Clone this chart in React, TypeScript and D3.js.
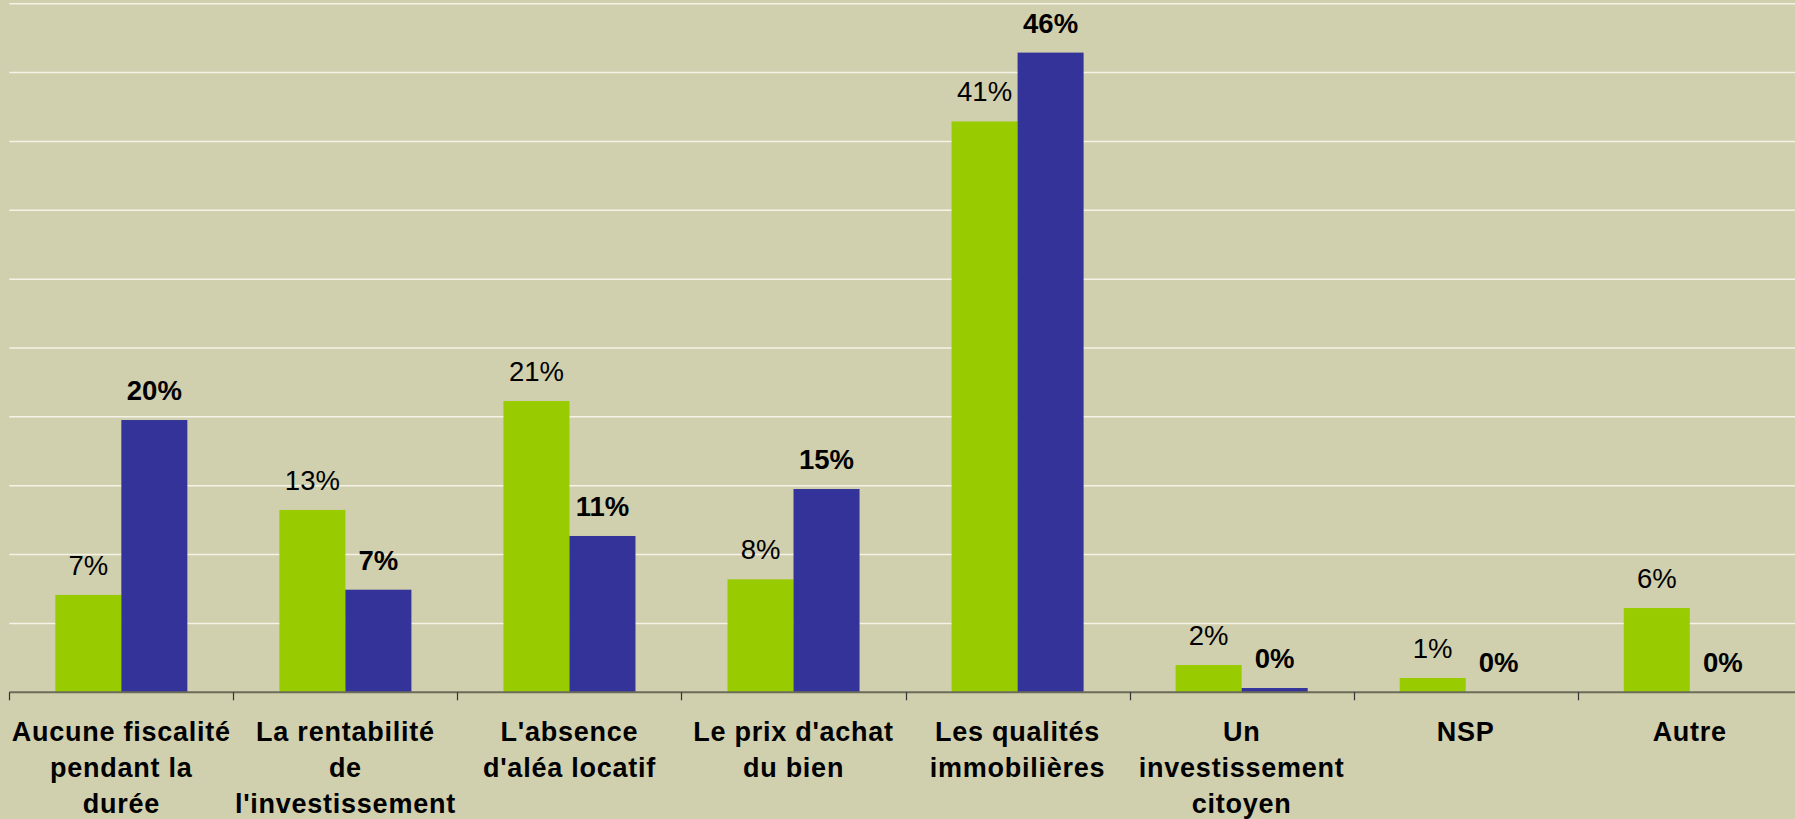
import React from "react";
import * as d3 from "d3";

const categories: string[][] = [
  ["Aucune fiscalité", "pendant la", "durée"],
  ["La rentabilité", "de", "l'investissement"],
  ["L'absence", "d'aléa locatif"],
  ["Le prix d'achat", "du bien"],
  ["Les qualités", "immobilières"],
  ["Un", "investissement", "citoyen"],
  ["NSP"],
  ["Autre"],
];
const seriesNames = ["serieA", "serieB"];
const seriesA = [7.07, 13.24, 21.15, 8.2, 41.45, 1.98, 1.04, 6.12];
const seriesB = [19.77, 7.45, 11.35, 14.76, 46.45, 0.31, 0, 0];
const gridTicks = [5, 10, 15, 20, 25, 30, 35, 40, 45, 50];

const W = 1795;
const H = 819;
const BG = "#D0CFAE";
const GREEN = "#99CC00";
const BLUE = "#333399";
const FONT = "'Liberation Sans', Arial, Helvetica, sans-serif";

export default function App() {
  if (typeof document !== "undefined") {
    document.body.style.margin = "0";
    document.body.style.background = BG;
  }
  const keys = categories.map((c) => c.join(" "));
  const x0 = d3.scaleBand<string>().domain(keys).range([9.3, 1801.8]).padding(0);
  const x1 = d3
    .scaleBand<string>()
    .domain(seriesNames)
    .range([0, x0.bandwidth()])
    .paddingInner(0)
    .paddingOuter(0.697);
  const y = d3.scaleLinear().domain([0, 50]).range([692.3, 3.7]);
  const base = y(0);

  const bars = keys.map((k, i) => ({
    k,
    i,
    vals: [seriesA[i], seriesB[i]],
  }));

  return (
    <svg
      width={W}
      height={H}
      style={{ position: "absolute", left: 0, top: 0, display: "block" }}
    >
      <rect x={0} y={0} width={W} height={H} fill={BG} />
      {gridTicks.map((t) => (
        <line
          key={t}
          x1={9.3}
          x2={W}
          y1={y(t)}
          y2={y(t)}
          stroke="#F4F3E6"
          strokeWidth={1.5}
        />
      ))}
      {bars.map((b) =>
        b.vals.map((v, j) => {
          const bx = (x0(b.k) as number) + (x1(seriesNames[j]) as number);
          const bw = x1.bandwidth();
          const top = y(v);
          return (
            <g key={b.k + j}>
              {v > 0 && (
                <rect
                  x={bx}
                  y={top}
                  width={bw}
                  height={base - top}
                  fill={j === 0 ? GREEN : BLUE}
                />
              )}
              <text
                x={bx + bw / 2}
                y={top - 20}
                textAnchor="middle"
                fontFamily={FONT}
                fontSize={27.5}
                fontWeight={j === 0 ? "normal" : "bold"}
                fill="#000"
              >
                {Math.round(v) + "%"}
              </text>
            </g>
          );
        })
      )}
      <line
        x1={9.3}
        x2={W}
        y1={base}
        y2={base}
        stroke="#6B6B5A"
        strokeWidth={2}
      />
      {keys.map((k) => (
        <line
          key={"t" + k}
          x1={Math.round(x0(k) as number) + 0.5}
          x2={Math.round(x0(k) as number) + 0.5}
          y1={base}
          y2={base + 8}
          stroke="#333"
          strokeWidth={1.2}
        />
      ))}
      {categories.map((lines, i) => {
        const cx = (x0(keys[i]) as number) + x0.bandwidth() / 2;
        return (
          <text
            key={"c" + i}
            x={cx}
            textAnchor="middle"
            fontFamily={FONT}
            fontSize={27}
            letterSpacing={0.75}
            fontWeight="bold"
            fill="#000"
          >
            {lines.map((l, li) => (
              <tspan key={li} x={cx} y={741 + li * 36}>
                {l}
              </tspan>
            ))}
          </text>
        );
      })}
    </svg>
  );
}
